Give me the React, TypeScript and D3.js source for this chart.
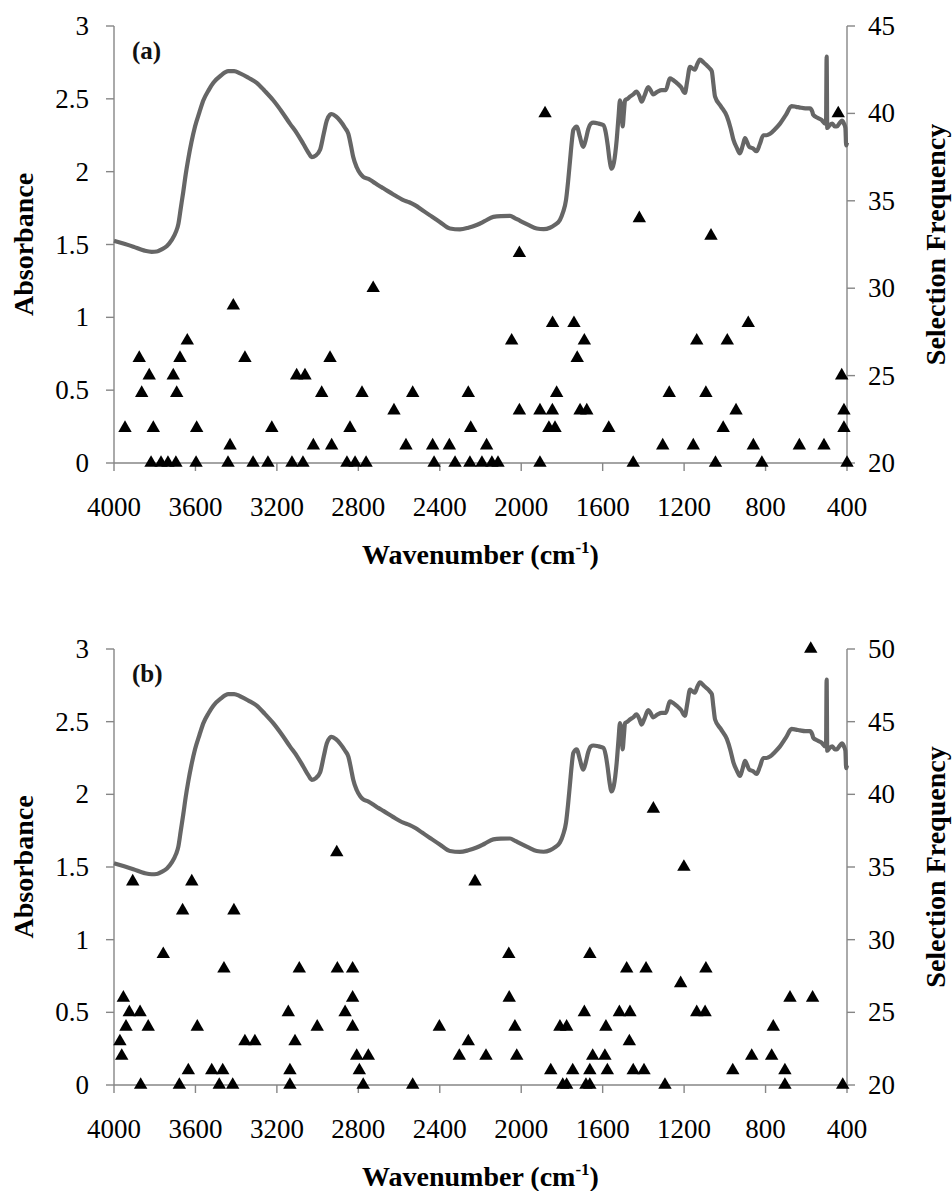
import React from 'react';
import * as d3 from 'd3';

// ---------- data ----------
const SPEC_WAVENUMBER = [4000,3950,3905,3850,3815,3790,3766,3740,3717,3695,3684,3672,3660,3648,3635,3620,3602,3580,3561,3535,3512,3475,3439,3410,3381,3340,3299,3260,3218,3175,3136,3100,3070,3045,3029,3010,2988,2970,2955,2940,2931,2910,2890,2865,2849,2835,2825,2808,2790,2776,2750,2727,2700,2677,2630,2579,2550,2522,2485,2448,2400,2350,2301,2260,2219,2180,2137,2100,2055,2030,2006,1965,1924,1890,1859,1835,1810,1795,1780,1770,1760,1752,1744,1728,1712,1700,1695,1683,1671,1658,1646,1620,1597,1585,1575,1566,1556,1545,1531,1522,1515,1508,1502,1496,1490,1478,1466,1450,1434,1420,1409,1395,1376,1365,1352,1330,1310,1290,1270,1255,1237,1215,1196,1185,1171,1160,1147,1135,1122,1105,1089,1075,1064,1056,1048,1020,990,972,958,940,926,912,901,890,880,862,844,828,811,795,778,755,729,700,672,650,631,605,582,570,566,545,525,508,503,500,497,485,472,460,450,438,425,415,408,404,400];
const SPEC_ABSORBANCE = [1.526,1.505,1.485,1.458,1.45,1.452,1.467,1.49,1.53,1.59,1.64,1.75,1.86,1.98,2.09,2.2,2.31,2.41,2.49,2.56,2.61,2.66,2.69,2.69,2.675,2.645,2.61,2.555,2.49,2.41,2.33,2.26,2.19,2.13,2.10,2.11,2.15,2.26,2.35,2.39,2.396,2.38,2.35,2.30,2.26,2.17,2.10,2.03,1.985,1.965,1.95,1.93,1.905,1.886,1.845,1.805,1.79,1.77,1.735,1.70,1.655,1.61,1.604,1.615,1.634,1.66,1.69,1.695,1.696,1.68,1.663,1.635,1.61,1.605,1.615,1.635,1.668,1.72,1.805,1.93,2.08,2.2,2.286,2.31,2.24,2.18,2.17,2.22,2.29,2.33,2.336,2.33,2.32,2.27,2.18,2.08,2.02,2.06,2.22,2.38,2.49,2.45,2.31,2.40,2.49,2.50,2.515,2.53,2.55,2.52,2.48,2.52,2.58,2.56,2.53,2.55,2.56,2.56,2.64,2.63,2.61,2.58,2.54,2.62,2.72,2.71,2.70,2.74,2.77,2.75,2.73,2.71,2.69,2.60,2.515,2.45,2.38,2.30,2.22,2.16,2.126,2.18,2.23,2.20,2.17,2.16,2.14,2.19,2.25,2.25,2.26,2.29,2.33,2.39,2.45,2.445,2.44,2.435,2.435,2.41,2.39,2.37,2.355,2.33,2.33,2.79,2.30,2.32,2.33,2.31,2.31,2.33,2.35,2.33,2.30,2.18,2.2];

const A_WAVENUMBER = [3946,3876,3864,3827,3818,3807,3769,3735,3709,3696,3692,3676,3640,3597,3594,3440,3430,3414,3357,3317,3244,3225,3126,3103,3072,3062,3021,2980,2939,2931,2856,2841,2816,2782,2762,2727,2625,2566,2533,2435,2428,2353,2325,2260,2252,2248,2193,2170,2144,2114,2047,2009,2009,1908,1908,1883,1864,1847,1846,1834,1826,1741,1725,1711,1690,1678,1570,1450,1420,1305,1273,1155,1138,1093,1068,1046,1008,988,945,885,860,818,634,513,443,426,415,415,400];
const A_FREQUENCY = [22,26,24,25,20,22,20,20,25,20,24,26,27,20,22,20,21,29,26,20,20,22,20,25,20,25,21,24,26,21,20,22,20,24,20,30,23,21,24,21,20,21,20,24,20,22,20,21,20,20,27,32,23,20,23,40,22,23,28,22,24,28,26,23,27,23,22,20,34,21,24,21,27,24,33,20,22,27,23,28,21,20,21,21,40,25,23,22,20];

const B_WAVENUMBER = [3971,3962,3954,3941,3925,3908,3872,3869,3832,3758,3679,3663,3635,3618,3591,3520,3483,3466,3460,3417,3411,3357,3308,3144,3136,3136,3111,3090,3002,2906,2903,2865,2828,2828,2828,2808,2795,2776,2751,2533,2402,2304,2260,2227,2173,2061,2059,2031,2022,1855,1810,1796,1777,1777,1747,1690,1682,1663,1663,1663,1649,1589,1584,1577,1518,1482,1469,1466,1450,1397,1387,1351,1294,1217,1201,1138,1097,1093,961,868,770,762,705,705,680,578,569,421];
const B_FREQUENCY = [23,22,26,24,25,34,25,20,24,29,20,32,21,34,24,21,20,21,28,20,32,23,23,25,21,20,23,28,24,36,28,25,28,26,24,22,21,20,22,20,24,22,23,34,22,29,26,24,22,21,24,20,20,24,21,25,20,29,21,20,22,22,24,21,25,28,23,25,21,21,28,39,20,27,35,25,25,28,21,22,22,24,21,20,26,50,26,20];

const X_TICKS = [4000, 3600, 3200, 2800, 2400, 2000, 1600, 1200, 800, 400];
const ABS_TICKS = [0, 0.5, 1, 1.5, 2, 2.5, 3];
const FREQ_TICKS_A = [20, 25, 30, 35, 40, 45];
const FREQ_TICKS_B = [20, 25, 30, 35, 40, 45, 50];

// ---------- style ----------
const FONT = "'Liberation Serif', 'Times New Roman', serif";
const AXIS_COLOR = '#868686';
const LINE_COLOR = '#666666';
const X_LEFT = 114;
const X_RIGHT = 847;

type PanelProps = {
  top: number;
  bottom: number;
  freqTicks: number[];
  waves: number[];
  freqs: number[];
  label: string;
};

function Panel({ top, bottom, freqTicks, waves, freqs, label }: PanelProps) {
  const x = d3.scaleLinear().domain([4000, 400]).range([X_LEFT, X_RIGHT]);
  const yA = d3.scaleLinear().domain([0, 3]).range([bottom, top]);
  const yF = d3
    .scaleLinear()
    .domain([freqTicks[0], freqTicks[freqTicks.length - 1]])
    .range([bottom, top]);

  const line = d3
    .line<number>()
    .x((_, i) => x(SPEC_WAVENUMBER[i]))
    .y((d) => yA(d))
    .curve(d3.curveMonotoneX);

  const tri = d3.symbol().type(d3.symbolTriangle).size(78)() as string;
  const midY = (top + bottom) / 2;
  const midX = (X_LEFT + X_RIGHT) / 2;

  return (
    <g>
      {/* axes */}
      <line x1={X_LEFT} x2={X_RIGHT} y1={bottom} y2={bottom} stroke={AXIS_COLOR} strokeWidth={1.4} />
      <line x1={X_LEFT} x2={X_LEFT} y1={top} y2={bottom} stroke={AXIS_COLOR} strokeWidth={1.4} />
      <line x1={X_RIGHT} x2={X_RIGHT} y1={top} y2={bottom} stroke={AXIS_COLOR} strokeWidth={1.4} />

      {X_TICKS.map((t) => (
        <g key={'x' + t}>
          <line x1={x(t)} x2={x(t)} y1={bottom} y2={bottom + 8} stroke={AXIS_COLOR} strokeWidth={1.4} />
          <text x={x(t)} y={bottom + 53} textAnchor="middle" fontFamily={FONT} fontSize={27} fill="#000">
            {t}
          </text>
        </g>
      ))}

      {ABS_TICKS.map((t) => (
        <g key={'a' + t}>
          <line x1={X_LEFT - 8} x2={X_LEFT} y1={yA(t)} y2={yA(t)} stroke={AXIS_COLOR} strokeWidth={1.4} />
          <text x={89} y={yA(t) + 9} textAnchor="end" fontFamily={FONT} fontSize={27} fill="#000">
            {String(t)}
          </text>
        </g>
      ))}

      {freqTicks.map((t) => (
        <g key={'f' + t}>
          <line x1={X_RIGHT} x2={X_RIGHT + 8} y1={yF(t)} y2={yF(t)} stroke={AXIS_COLOR} strokeWidth={1.4} />
          <text x={868} y={yF(t) + 9} textAnchor="start" fontFamily={FONT} fontSize={27} fill="#000">
            {t}
          </text>
        </g>
      ))}

      {/* spectrum */}
      <path d={line(SPEC_ABSORBANCE) || ''} fill="none" stroke={LINE_COLOR} strokeWidth={4.2} strokeLinejoin="round" />

      {/* selection frequency markers */}
      {waves.map((w, i) => (
        <path key={'p' + i} d={tri} transform={`translate(${x(w)},${yF(freqs[i])})`} fill="#000" />
      ))}

      {/* panel label */}
      <text x={132} y={top + 33} fontFamily={FONT} fontSize={25} fontWeight="bold" fill="#111">
        {label}
      </text>

      {/* axis titles */}
      <text
        transform={`translate(33,${midY}) rotate(-90)`}
        textAnchor="middle"
        fontFamily={FONT}
        fontSize={28}
        fontWeight="bold"
        fill="#000"
      >
        Absorbance
      </text>
      <text
        transform={`translate(945,${midY}) rotate(-90)`}
        textAnchor="middle"
        fontFamily={FONT}
        fontSize={28}
        fontWeight="bold"
        fill="#000"
      >
        Selection Frequency
      </text>
      <text x={midX} y={bottom + 101} textAnchor="middle" fontFamily={FONT} fontSize={28} fontWeight="bold" fill="#000">
        Wavenumber (cm
        <tspan fontSize={17} dy={-11}>-1</tspan>
        <tspan dy={11}>)</tspan>
      </text>
    </g>
  );
}

export default function App() {
  return (
    <svg width={952} height={1191} style={{ position: 'absolute', left: 0, top: 0, background: '#fff' }}>
      <rect width={952} height={1191} fill="#fff" />
      <Panel top={26} bottom={463} freqTicks={FREQ_TICKS_A} waves={A_WAVENUMBER} freqs={A_FREQUENCY} label="(a)" />
      <Panel top={649} bottom={1085} freqTicks={FREQ_TICKS_B} waves={B_WAVENUMBER} freqs={B_FREQUENCY} label="(b)" />
    </svg>
  );
}
